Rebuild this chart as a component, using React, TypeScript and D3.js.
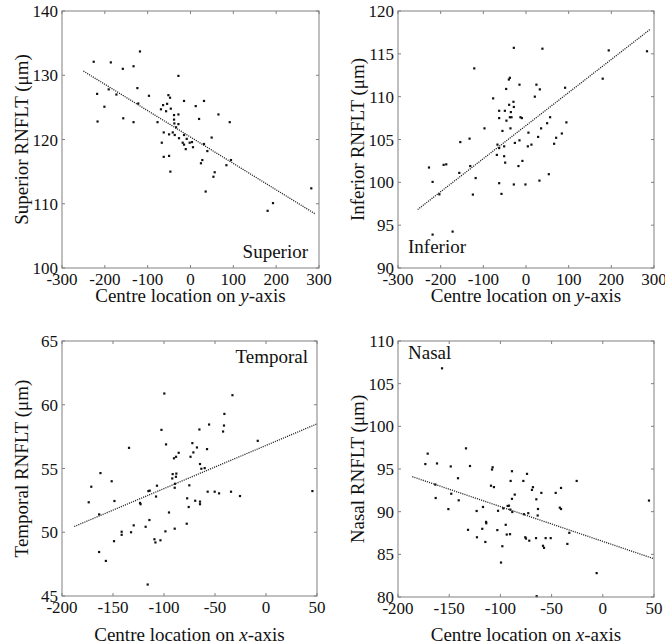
import React from "react";
import * as d3 from "d3";

// ---------- DATA ----------
// Superior (x = centre location on y-axis, y = RNFLT µm)
const supX = [-226, -218, -217, -201, -191, -186, -173, -158, -157, -133, -133, -124, -122, -118, -97, -77, -69, -67, -64, -62.5, -62.5, -57, -54.6, -51.6, -47.8, -50, -50, -46, -47, -41.4, -38.4, -38.4, -37.7, -36.8, -33.8, -28.2, -28.2, -28.2, -26.8, -18.2, -15.1, -15.1, -15.1, -11.1, -8.8, -1.9, 3.5, 5.8, 12.2, 20, 24.4, 27.6, 31.5, 31.5, 35.4, 39.3, 49.4, 53.5, 56.5, 65.2, 83.8, 91.6, 94.5, 180, 192.6, 282];
const supY = [132.1, 127.1, 122.8, 125.1, 127.8, 132.0, 127.0, 131.0, 123.3, 131.4, 122.7, 128.0, 125.6, 133.7, 126.8, 122.7, 124.7, 119.5, 125.35, 121.1, 117.3, 124.4, 125.55, 126.9, 126.5, 120.8, 117.45, 124.8, 115.0, 121.1, 123.8, 123.1, 122.5, 120.7, 121.9, 123.9, 122.4, 129.9, 120.2, 119.5, 126.0, 120.7, 119.2, 118.5, 120.1, 119.5, 119.6, 118.8, 125.2, 123.2, 116.3, 116.8, 126.0, 119.3, 111.9, 118.2, 120.3, 114.2, 114.9, 123.9, 116.0, 122.7, 116.8, 108.9, 110.1, 112.4];
const supFitX = [-250, 290];
const supFitY = [130.65, 108.47];

// Inferior
const infX = [-227.4, -218.9, -218.9, -203, -193, -186.9, -172, -156.4, -154, -132.3, -130.7, -124.5, -121.3, -118, 179.8, 193.9, 283.6, -28.5, 38.5, -37.8, -40.2, -15.3, 24.4, 32.4, -46.5, 20.7, 91.6, -77, -39.5, -29.4, -28.5, -62.9, -49.5, -35.5, -62.9, -45.8, -37.8, -34, -13, -9.7, 56.5, 49.5, 94.7, -97.3, -36.4, -55.2, 35.4, 5.7, 84, 70.6, 28.4, 65.9, -15.3, -26.1, -66.9, 12.7, 4.3, -62.9, -51.2, -68.3, -51.2, -48.8, -8.4, -17.7, 53.5, 31.5, -62.9, -28.5, -1.3, -57.5];
const infY = [101.73, 100.05, 93.9, 98.6, 102.04, 102.1, 94.25, 101.1, 104.7, 105.1, 101.9, 98.57, 113.3, 100.5, 112.1, 115.4, 115.3, 115.7, 115.6, 112.2, 112.0, 111.4, 111.4, 110.85, 110.9, 110.0, 111.04, 109.8, 109.05, 109.4, 108.8, 108.35, 108.35, 108.2, 107.5, 107.2, 107.6, 107.6, 107.6, 107.5, 107.6, 106.9, 107.0, 106.3, 106.3, 106.0, 106.3, 105.8, 105.7, 105.2, 105.3, 104.5, 104.9, 104.6, 104.4, 104.4, 104.2, 104.0, 104.2, 103.2, 103.05, 102.3, 102.5, 101.9, 100.95, 100.2, 99.9, 99.75, 99.75, 98.65];
const infFitX = [-254, 292];
const infFitY = [96.82, 117.9];

// Temporal (x = centre location on x-axis)
const tempX = [-173.8, -171.3, -163.6, -162.3, -163.6, -157, -151.3, -148.6, -149, -141.5, -141.5, -134.3, -132.3, -129.7, -123.5, -123, -118, -116, -115.3, -114, -114.3, -109.4, -108.4, -107.8, -106.9, -103.5, -102.5, -99.7, -98.6, -98, -95.1, -91.9, -91.5, -90.2, -89.5, -89.2, -89.5, -88.3, -88.2, -87.9, -85.6, -77.7, -77.3, -75.8, -75.2, -74, -72.2, -71.2, -69.4, -67.7, -65.3, -64.7, -64.7, -64.7, -63.4, -60.1, -57.8, -57.2, -55.8, -50.3, -46, -42.1, -41.2, -40.8, -34.3, -32.9, -25.5, -8.1, 45.5];
const tempY = [52.35, 53.57, 51.4, 54.64, 48.45, 47.75, 54.0, 52.45, 49.3, 50.04, 49.8, 56.62, 50.0, 50.54, 52.3, 52.2, 50.43, 45.9, 53.23, 53.26, 50.96, 49.45, 49.2, 52.8, 53.65, 49.37, 58.03, 60.88, 50.07, 56.89, 51.55, 54.22, 54.56, 55.8, 53.49, 53.8, 50.28, 54.35, 55.92, 54.6, 56.23, 50.67, 52.66, 51.98, 53.68, 55.92, 56.99, 56.26, 52.47, 56.65, 58.06, 55.35, 52.4, 52.2, 54.98, 55.03, 56.52, 53.18, 58.45, 53.18, 53.05, 57.9, 58.37, 59.28, 53.18, 60.75, 52.84, 57.17, 53.23];
const tempFitX = [-188, 50];
const tempFitY = [50.45, 58.5];

// Nasal
const nasX = [-157, -171, -173.3, -161.9, -133.6, -148.5, -129.7, -107.6, -108.2, -141.4, -163.6, -109.2, -106.3, -148, -163.2, -140.7, -150.8, -88.7, -74, -90, -77.6, -68.2, -69.2, -60, -46, -40.8, -25.5, -86, -88.7, -64.9, -63.3, -42, -40.8, -92.9, -91.6, -97.2, -90.3, -88.4, -102.3, -77, -72.8, -63.6, -117, -123.2, -114, -113.8, -131.6, -117.7, -103, -94.8, -122.9, -114.7, -93.8, -90.6, -75.7, -75, -71.8, -65.2, -55.8, -50.9, -58.4, -57.4, -32.7, -34.6, -98.1, -99.4, -64.6, -6, 45.1];
const nasY = [106.8, 96.8, 95.58, 95.65, 97.42, 95.3, 95.35, 95.2, 94.94, 93.92, 93.18, 93.04, 92.88, 92.1, 91.6, 91.33, 90.3, 94.74, 94.43, 93.6, 93.6, 92.87, 92.55, 92.2, 92.2, 92.78, 93.6, 92.0, 91.5, 91.45, 90.31, 90.47, 90.31, 90.67, 90.7, 90.39, 90.24, 89.96, 90.1, 89.7, 89.82, 89.55, 90.55, 90.08, 88.8, 88.64, 87.87, 87.99, 87.84, 88.46, 87.0, 86.45, 87.32, 87.36, 87.0, 86.85, 86.6, 86.9, 86.9, 86.9, 86.0, 85.76, 87.52, 86.22, 85.95, 84.04, 80.1, 82.8, 91.3];
const nasFitX = [-186, 49.5];
const nasFitY = [94.1, 84.5];

// Tick values
const yAxisTicksX = [-300, -200, -100, 0, 100, 200, 300];
const xAxisTicksX = [-200, -150, -100, -50, 0, 50];
const supTicksY = [100, 110, 120, 130, 140];
const infTicksY = [90, 95, 100, 105, 110, 115, 120];
const tempTicksY = [45, 50, 55, 60, 65];
const nasTicksY = [80, 85, 90, 95, 100, 105, 110];

const titles = ["Superior", "Inferior", "Temporal", "Nasal"];
const yLabels = ["Superior RNFLT (\u03bcm)", "Inferior RNFLT (\u03bcm)", "Temporal RNFLT (\u03bcm)", "Nasal RNFLT (\u03bcm)"];
const xAxisWord = ["y", "y", "x", "x"];

// ---------- LAYOUT ----------
const FONT = "Liberation Serif, DejaVu Serif, serif";

type Cfg = {
  left: number; top: number; w: number; h: number;
  xd: number[]; yd: number[]; xt: number[]; yt: number[];
  xs: number[]; ys: number[]; fx: number[]; fy: number[];
  title: string; titleX: number; titleY: number; titleAnchor: string;
  ylabel: string; xword: string; xlabelY: number;
};

const panels: Cfg[] = [
  { left: 62, top: 11, w: 257, h: 257, xd: [-300, 300], yd: [100, 140], xt: yAxisTicksX, yt: supTicksY, xs: supX, ys: supY, fx: supFitX, fy: supFitY, title: titles[0], titleX: 308, titleY: 258, titleAnchor: "end", ylabel: yLabels[0], xword: xAxisWord[0], xlabelY: 302 },
  { left: 398, top: 11, w: 256, h: 257, xd: [-300, 300], yd: [90, 120], xt: yAxisTicksX, yt: infTicksY, xs: infX, ys: infY, fx: infFitX, fy: infFitY, title: titles[1], titleX: 408, titleY: 253, titleAnchor: "start", ylabel: yLabels[1], xword: xAxisWord[1], xlabelY: 302 },
  { left: 62, top: 341, w: 255, h: 255, xd: [-200, 50], yd: [45, 65], xt: xAxisTicksX, yt: tempTicksY, xs: tempX, ys: tempY, fx: tempFitX, fy: tempFitY, title: titles[2], titleX: 308, titleY: 363, titleAnchor: "end", ylabel: yLabels[2], xword: xAxisWord[2], xlabelY: 641 },
  { left: 398, top: 341, w: 256, h: 256, xd: [-200, 50], yd: [80, 110], xt: xAxisTicksX, yt: nasTicksY, xs: nasX, ys: nasY, fx: nasFitX, fy: nasFitY, title: titles[3], titleX: 408, titleY: 359, titleAnchor: "start", ylabel: yLabels[3], xword: xAxisWord[3], xlabelY: 641 },
];

const AXIS = "#808080";
const TICK = 3;
const txt = { fontFamily: FONT, fill: "#111" } as React.CSSProperties;

function Panel({ c }: { c: Cfg }) {
  const x = d3.scaleLinear().domain(c.xd).range([c.left, c.left + c.w]);
  const y = d3.scaleLinear().domain(c.yd).range([c.top + c.h, c.top]);
  const bottom = c.top + c.h;
  const right = c.left + c.w;
  const line = d3.line<number>().x((d, i) => x(c.fx[i])).y((d, i) => y(c.fy[i]));
  return (
    <g>
      {c.xs.map((v, i) => (
        <rect key={i} x={x(v) - 1.1} y={y(c.ys[i]) - 1.1} width={2.2} height={2.2} fill="#111" />
      ))}
      <path d={line(c.fx) || ""} fill="none" stroke="#222" strokeWidth={1.3} strokeDasharray="1.1 1.1" />
      <rect x={c.left} y={c.top} width={c.w} height={c.h} fill="none" stroke={AXIS} strokeWidth={1} />
      {c.xt.map((t) => (
        <g key={"x" + t}>
          <line x1={x(t)} x2={x(t)} y1={bottom} y2={bottom - TICK} stroke={AXIS} />
          <line x1={x(t)} x2={x(t)} y1={c.top} y2={c.top + TICK} stroke={AXIS} />
          <text x={x(t)} y={bottom + 17} textAnchor="middle" style={{ ...txt, fontSize: 17 }}>{t}</text>
        </g>
      ))}
      {c.yt.map((t) => (
        <g key={"y" + t}>
          <line x1={c.left} x2={c.left + TICK} y1={y(t)} y2={y(t)} stroke={AXIS} />
          <line x1={right} x2={right - TICK} y1={y(t)} y2={y(t)} stroke={AXIS} />
          <text x={c.left - 4} y={y(t) + 6} textAnchor="end" style={{ ...txt, fontSize: 17 }}>{t}</text>
        </g>
      ))}
      <text x={c.titleX} y={c.titleY} textAnchor={c.titleAnchor as any} style={{ ...txt, fontSize: 19 }}>{c.title}</text>
      <text x={c.left + c.w / 2} y={c.xlabelY} textAnchor="middle" style={{ ...txt, fontSize: 19 }}>
        Centre location on <tspan style={{ fontStyle: "italic" }}>{c.xword}</tspan>-axis
      </text>
      <text transform={`translate(${c.left - 34}, ${c.top + c.h / 2}) rotate(-90)`} textAnchor="middle" style={{ ...txt, fontSize: 19 }}>
        {c.ylabel}
      </text>
    </g>
  );
}

export default function App() {
  return (
    <svg width={665} height={644} style={{ position: "absolute", left: 0, top: 0, background: "#fff" }}>
      <rect x={0} y={0} width={665} height={644} fill="#fff" />
      {panels.map((c, i) => <Panel key={i} c={c} />)}
    </svg>
  );
}
